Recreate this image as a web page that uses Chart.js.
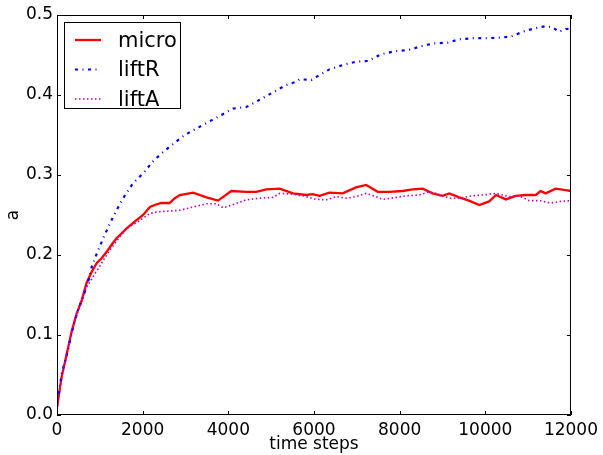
<!DOCTYPE html>
<html>
<head>
<meta charset="utf-8">
<script src="https://cdn.jsdelivr.net/npm/chart.js@4.4.1/dist/chart.umd.min.js"></script>
<style>
  html, body { margin: 0; padding: 0; background: #fff; }
</style>
</head>
<body>
<canvas id="chart" width="603" height="455"></canvas>
<script>
// values
const microSteps = [0, 110, 230, 340, 460, 580, 690, 810, 930, 1040, 1160, 1270, 1390, 1510, 1620, 1820, 2010, 2170, 2280, 2440, 2630, 2750, 2870, 3180, 3490, 3760, 4070, 4420, 4650, 4890, 5200, 5510, 5820, 5970, 6130, 6360, 6670, 6980, 7220, 7490, 7760, 8070, 8300, 8540, 8770, 9000, 9160, 9390, 9620, 9860, 10090, 10250, 10480, 10710, 10940, 11180, 11290, 11410, 11640, 11880, 12000];
const microValues = [0.010, 0.048, 0.077, 0.104, 0.127, 0.144, 0.165, 0.179, 0.190, 0.196, 0.204, 0.2125, 0.221, 0.227, 0.233, 0.242, 0.250, 0.260, 0.2625, 0.265, 0.265, 0.271, 0.275, 0.278, 0.272, 0.268, 0.280, 0.279, 0.279, 0.282, 0.283, 0.277, 0.275, 0.276, 0.274, 0.278, 0.277, 0.2845, 0.2875, 0.279, 0.279, 0.280, 0.282, 0.283, 0.277, 0.274, 0.277, 0.272, 0.268, 0.2625, 0.267, 0.275, 0.2695, 0.274, 0.275, 0.275, 0.280, 0.277, 0.283, 0.281, 0.280];

const liftRSteps = [0, 110, 230, 340, 460, 610, 730, 810, 930, 1080, 1240, 1390, 1590, 1780, 2010, 2240, 2480, 2980, 3490, 3840, 4110, 4420, 4730, 5000, 5350, 5590, 5660, 5940, 6130, 6360, 6670, 6980, 7260, 7570, 7920, 8190, 8500, 8810, 9120, 9390, 9700, 10010, 10320, 10600, 10940, 11260, 11410, 11570, 11720, 11880, 12000];
const liftRValues = [0.010, 0.052, 0.075, 0.102, 0.126, 0.148, 0.167, 0.185, 0.202, 0.221, 0.240, 0.256, 0.275, 0.290, 0.302, 0.317, 0.329, 0.350, 0.365, 0.375, 0.383, 0.385, 0.394, 0.402, 0.4125, 0.4166, 0.4196, 0.419, 0.425, 0.432, 0.4375, 0.4416, 0.4425, 0.451, 0.455, 0.456, 0.461, 0.4646, 0.4654, 0.4696, 0.471, 0.471, 0.4716, 0.473, 0.4804, 0.4846, 0.486, 0.4846, 0.479, 0.4825, 0.483];

const liftASteps = [0, 110, 230, 340, 460, 580, 690, 810, 900, 1000, 1100, 1250, 1400, 1620, 1900, 2170, 2360, 2630, 2870, 3180, 3490, 3720, 3880, 4110, 4420, 4730, 5040, 5200, 5510, 5740, 6050, 6290, 6520, 6750, 6980, 7220, 7450, 7600, 7920, 8150, 8460, 8690, 8850, 9160, 9390, 9700, 9930, 10250, 10560, 10790, 11020, 11260, 11530, 11760, 12000];
const liftAValues = [0.010, 0.048, 0.077, 0.103, 0.125, 0.142, 0.160, 0.170, 0.178, 0.186, 0.195, 0.207, 0.218, 0.233, 0.242, 0.252, 0.254, 0.255, 0.256, 0.260, 0.264, 0.264, 0.259, 0.263, 0.269, 0.271, 0.272, 0.277, 0.276, 0.274, 0.2695, 0.269, 0.273, 0.271, 0.273, 0.277, 0.273, 0.2695, 0.272, 0.274, 0.275, 0.279, 0.277, 0.271, 0.271, 0.274, 0.275, 0.277, 0.273, 0.274, 0.268, 0.268, 0.265, 0.267, 0.268];

const xTicks = [0, 2000, 4000, 6000, 8000, 10000, 12000];
const yTicks = [0.0, 0.1, 0.2, 0.3, 0.4, 0.5];

const FONT = "'DejaVu Sans', sans-serif";

function toPoints(steps, values) {
  return steps.map((t, i) => ({ x: t, y: values[i] }));
}

const series = [
  { label: "micro", color: "#ff0000", width: 2.3, dash: [], data: toPoints(microSteps, microValues) },
  { label: "liftR", color: "#0000ff", width: 2.2, dash: [3, 4.5, 1, 4.5], data: toPoints(liftRSteps, liftRValues) },
  { label: "liftA", color: "#bf00bf", width: 1.6, dash: [1.5, 2.5], data: toPoints(liftASteps, liftAValues) }
];

// matplotlib-like frame, inward ticks and boxed legend
const framePlugin = {
  id: "frame",
  afterDatasetsDraw(chart) {
    const { ctx, chartArea: a, scales } = chart;
    ctx.save();
    ctx.strokeStyle = "#000";
    ctx.lineWidth = 1;
    ctx.strokeRect(a.left + 0.5, a.top + 0.5, a.right - a.left - 1, a.bottom - a.top - 1);

    ctx.beginPath();
    xTicks.forEach(v => {
      const px = Math.round(scales.x.getPixelForValue(v)) + 0.5;
      ctx.moveTo(px, a.bottom); ctx.lineTo(px, a.bottom - 4);
      ctx.moveTo(px, a.top); ctx.lineTo(px, a.top + 4);
    });
    yTicks.forEach(v => {
      const py = Math.round(scales.y.getPixelForValue(v)) + 0.5;
      ctx.moveTo(a.left, py); ctx.lineTo(a.left + 4, py);
      ctx.moveTo(a.right, py); ctx.lineTo(a.right - 4, py);
    });
    ctx.stroke();

    // legend
    const lx = 64.5, ly = 22.5, lw = 116, lh = 86;
    ctx.fillStyle = "#fff";
    ctx.fillRect(lx, ly, lw, lh);
    ctx.strokeRect(lx, ly, lw, lh);
    ctx.font = "21px " + FONT;
    ctx.textBaseline = "alphabetic";
    ctx.textAlign = "left";
    series.forEach((s, i) => {
      const base = 46.5 + i * 29.5;
      const lineY = base - 6.5;
      ctx.beginPath();
      ctx.strokeStyle = s.color;
      ctx.lineWidth = s.width;
      ctx.setLineDash(s.dash);
      ctx.moveTo(75, lineY);
      ctx.lineTo(101, lineY);
      ctx.stroke();
      ctx.setLineDash([]);
      ctx.fillStyle = "#000";
      ctx.fillText(s.label, 118, base);
    });
    ctx.restore();
  }
};

new Chart(document.getElementById("chart"), {
  type: "line",
  data: {
    datasets: series.map((s, i) => ({
      label: s.label,
      data: s.data,
      borderColor: s.color,
      borderWidth: s.width,
      borderDash: s.dash,
      pointRadius: 0,
      tension: 0,
      fill: false,
      order: 3 - i
    }))
  },
  options: {
    responsive: false,
    animation: false,
    devicePixelRatio: 1,
    layout: { padding: { top: 15, right: 31, bottom: 0, left: 0 } },
    plugins: { legend: { display: false }, tooltip: { enabled: false } },
    scales: {
      x: {
        type: "linear",
        min: 0,
        max: 12000,
        afterFit: scale => { scale.height = 40; },
        afterBuildTicks: scale => { scale.ticks = xTicks.map(v => ({ value: v })); },
        grid: { display: false, drawTicks: false },
        border: { display: false },
        ticks: {
          padding: 5,
          color: "#000",
          font: { family: FONT, size: 17 },
          maxRotation: 0,
          callback: v => String(v)
        },
        title: {
          display: true,
          text: "time steps",
          color: "#000",
          font: { family: FONT, size: 17 },
          padding: { top: 0, bottom: 0 }
        }
      },
      y: {
        type: "linear",
        min: 0,
        max: 0.5,
        afterFit: scale => { scale.width = 57; },
        afterBuildTicks: scale => { scale.ticks = yTicks.map(v => ({ value: v })); },
        grid: { display: false, drawTicks: false },
        border: { display: false },
        ticks: {
          padding: 4,
          color: "#000",
          font: { family: FONT, size: 17 },
          callback: v => v.toFixed(1)
        },
        title: {
          display: true,
          text: "a",
          color: "#000",
          font: { family: FONT, size: 17 },
          padding: { top: 3, bottom: 0 }
        }
      }
    }
  },
  plugins: [framePlugin]
});
</script>
</body>
</html>
